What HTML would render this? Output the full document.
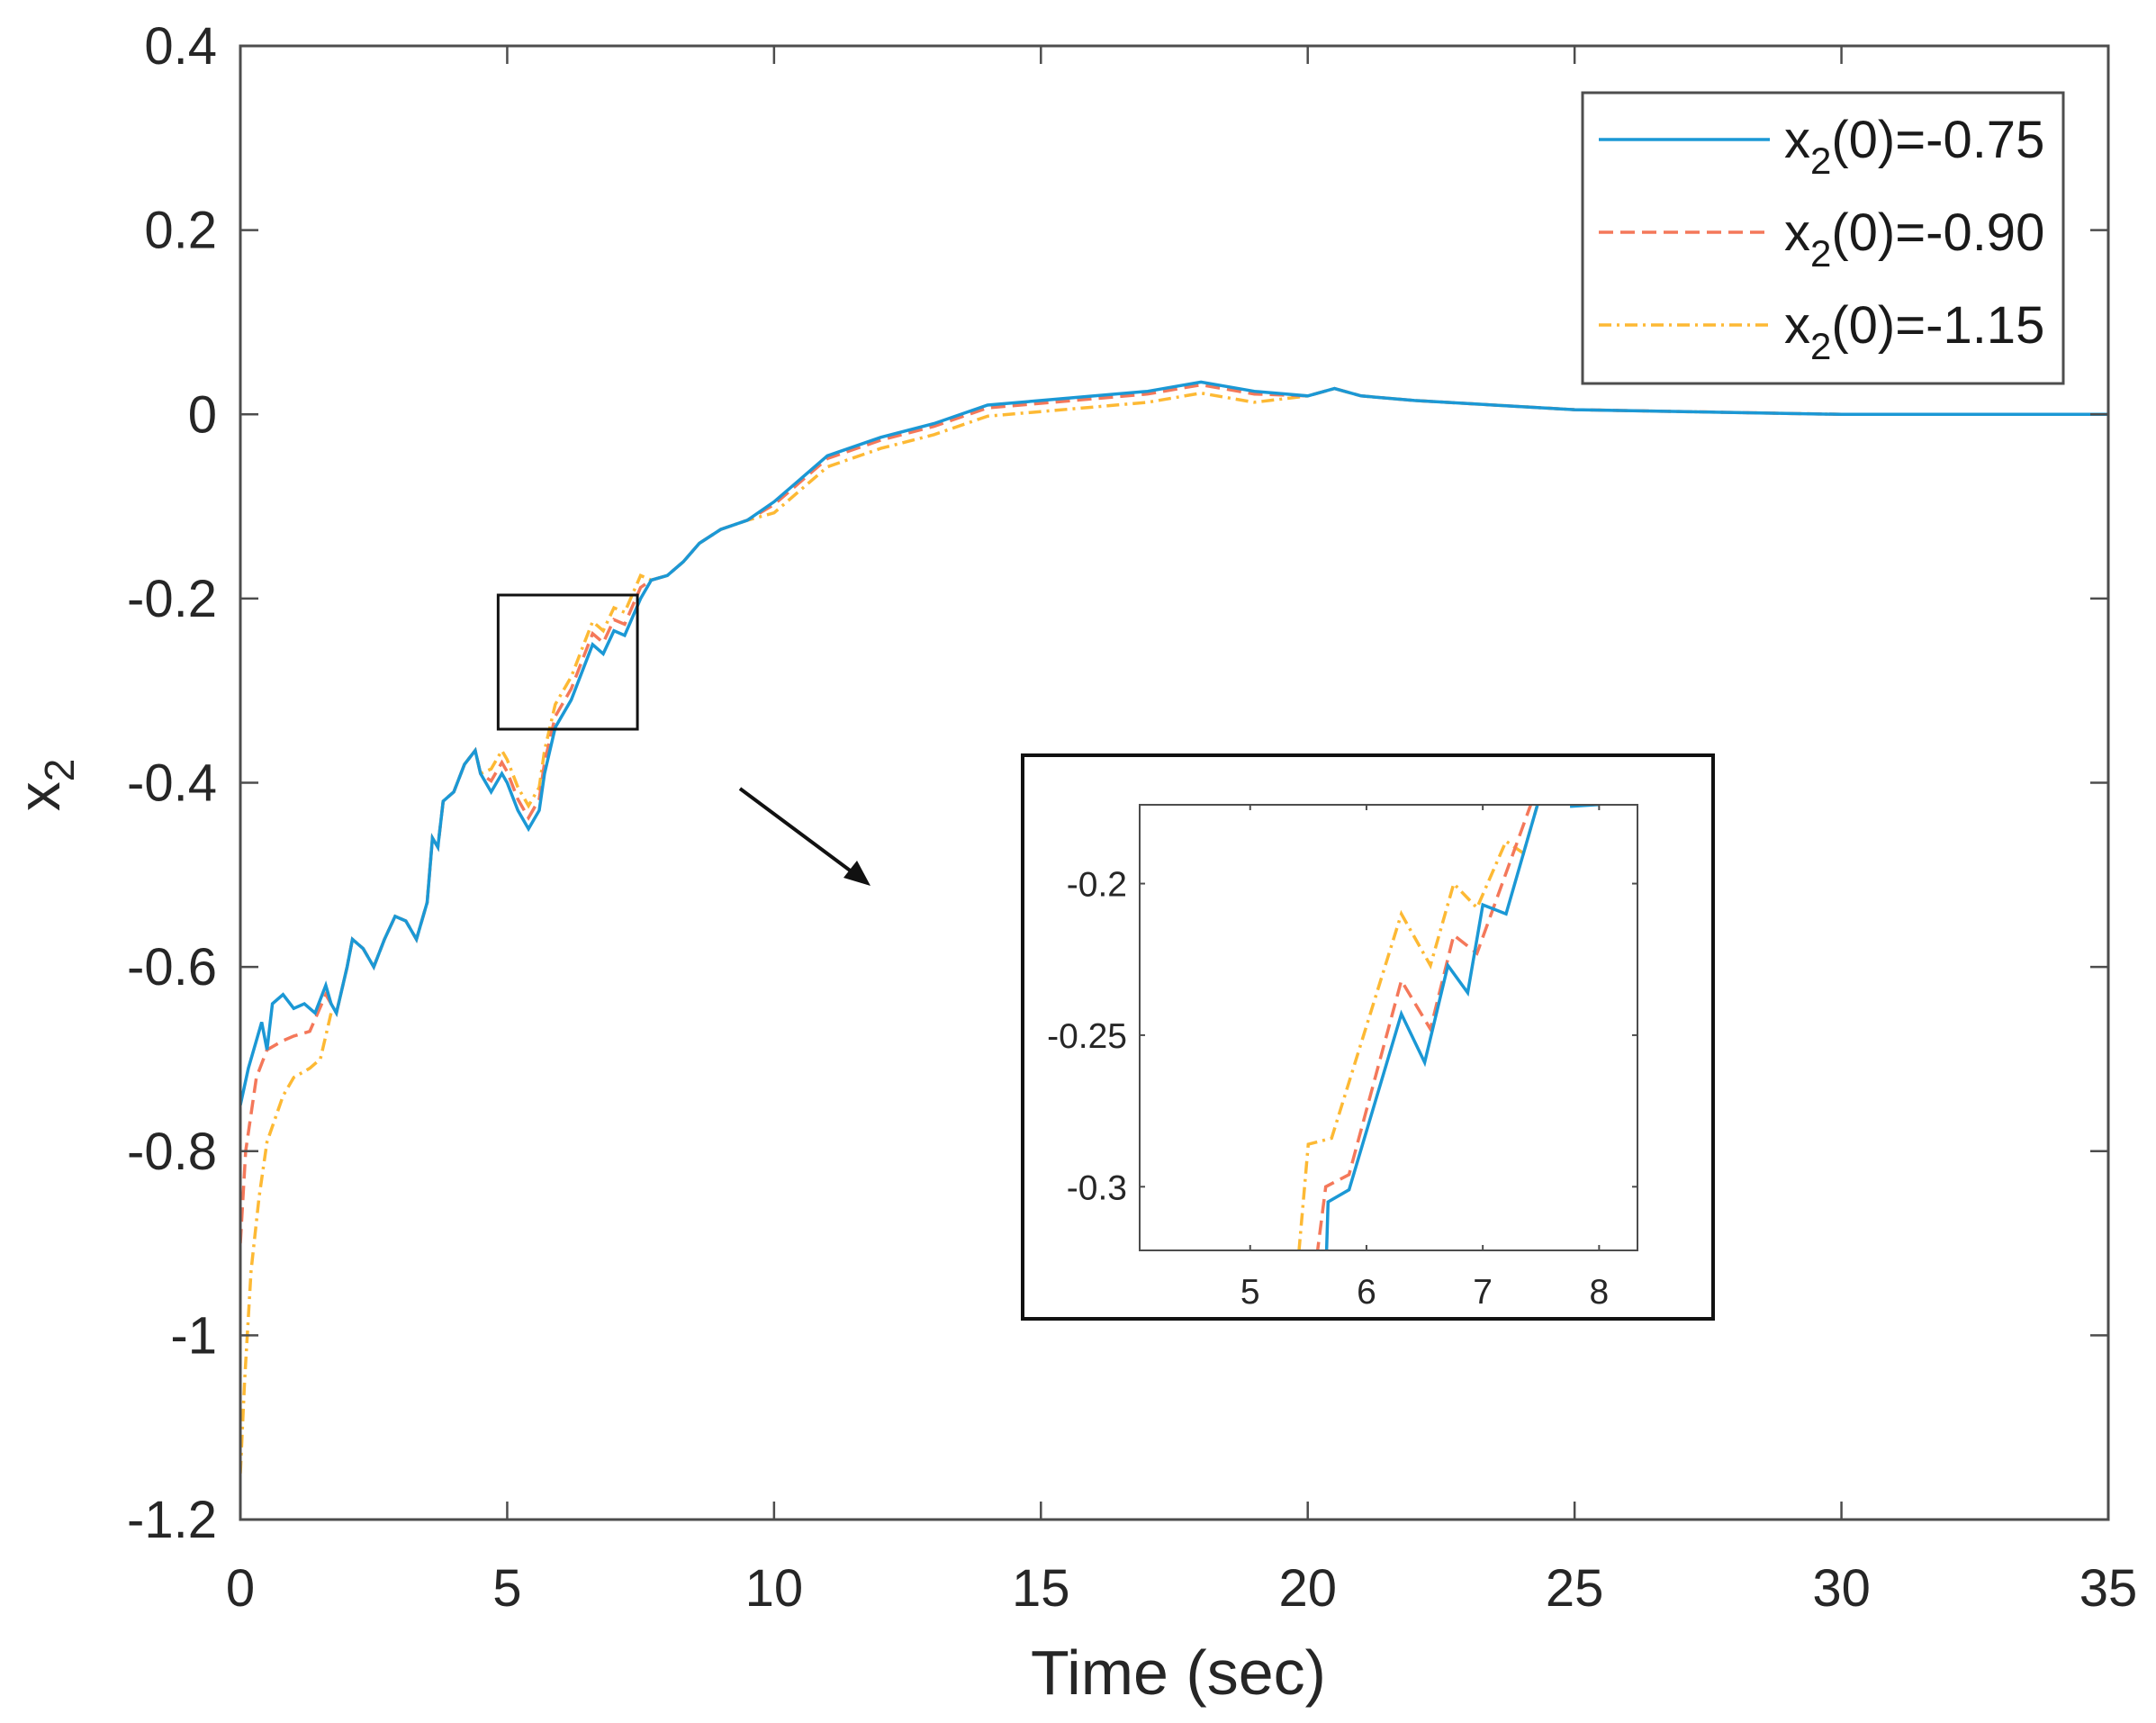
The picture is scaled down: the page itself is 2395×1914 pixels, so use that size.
<!DOCTYPE html>
<html><head><meta charset="utf-8"><style>
html,body{margin:0;padding:0;background:#fff;}
svg{display:block;font-family:"Liberation Sans",Arial,sans-serif;}
</style></head><body>
<svg id="s" width="2395" height="1914" viewBox="0 0 2395 1914" xmlns="http://www.w3.org/2000/svg">
<rect width="2395" height="1914" fill="#fff"/>
<defs>
<clipPath id="cm"><rect x="267" y="51" width="2075" height="1637"/></clipPath>
<clipPath id="ci"><rect x="1266" y="894" width="553" height="495"/></clipPath>
</defs>
<g id="main" clip-path="url(#cm)"></g>
<g id="axes"></g>
<g id="ins" clip-path="url(#ci)"></g>
<g id="ax2"></g>
</svg>
<script>
const NS="http://www.w3.org/2000/svg";
let DEF='axes';
function el(t,a,p,txt){if(typeof p==='string'){txt=p;p=null;}const e=document.createElementNS(NS,t);for(const k in a)e.setAttribute(k,a[k]);if(txt!==undefined)e.textContent=txt;(p||document.getElementById(DEF)).appendChild(e);return e;}
const X0=267,X1=2342,Y0=51,Y1=1688;
const mx=t=>X0+(t/35)*(X1-X0), my=v=>Y0+(0.4-v)/1.6*(Y1-Y0);
const blue=[[0,-0.75],[0.15,-0.71],[0.3,-0.68],[0.4,-0.66],[0.5,-0.69],[0.6,-0.64],[0.8,-0.63],[1.0,-0.645],[1.2,-0.64],[1.4,-0.65],[1.6,-0.62],[1.7,-0.64],[1.8,-0.65],[2.0,-0.6],[2.1,-0.57],[2.3,-0.58],[2.5,-0.6],[2.7,-0.57],[2.9,-0.545],[3.1,-0.55],[3.3,-0.57],[3.5,-0.53],[3.6,-0.46],[3.7,-0.47],[3.8,-0.42],[4.0,-0.41],[4.2,-0.38],[4.4,-0.365],[4.5,-0.39],[4.7,-0.41],[4.9,-0.39],[5.0,-0.4],[5.2,-0.43],[5.4,-0.45],[5.6,-0.43],[5.7,-0.39],[5.9,-0.34],[6.0,-0.33],[6.2,-0.31],[6.4,-0.28],[6.6,-0.25],[6.8,-0.26],[7.0,-0.235],[7.2,-0.24],[7.5,-0.2],[7.7,-0.18],[8,-0.175],[8.3,-0.16],[8.6,-0.14],[9,-0.125],[9.5,-0.115],[10,-0.095],[10.5,-0.07],[11,-0.045],[12,-0.025],[13,-0.01],[14,0.01],[15,0.015],[16,0.02],[17,0.025],[18,0.035],[19,0.025],[20,0.02],[20.5,0.028],[21,0.02],[22,0.015],[25,0.005],[30,0],[35,0]];
function mk(arr,early,delta){const out=early.slice();for(const [t,v] of arr){if(t<=early[early.length-1][0])continue;out.push([t,v+delta(t)]);}return out;}
const red=mk(blue,[[0,-0.90],[0.1,-0.8],[0.3,-0.72],[0.5,-0.69],[0.8,-0.68],[1.0,-0.675],[1.3,-0.67],[1.6,-0.63]],t=>(t>4.6&&t<7.6)?0.012:(t>9.5&&t<20?-0.003:0));
const yel=mk(blue,[[0,-1.15],[0.08,-1.05],[0.2,-0.93],[0.35,-0.85],[0.5,-0.79],[0.8,-0.74],[1.0,-0.72],[1.3,-0.71],[1.5,-0.70],[1.7,-0.65]],t=>(t>4.6&&t<7.6)?0.025:(t>9.5&&t<20?-0.012:0));
function path(pts,fx,fy){return pts.map((p,i)=>(i?'L':'M')+fx(p[0]).toFixed(1)+' '+fy(p[1]).toFixed(1)).join(' ');}
const C={b:'#1b98d5',r:'#f4785a',y:'#fdb934'};
const mg=document.getElementById('main');
el('path',{d:path(yel,mx,my),fill:'none',stroke:C.y,'stroke-width':3.5,'stroke-dasharray':'14 6 3 6'},mg);
el('path',{d:path(red,mx,my),fill:'none',stroke:C.r,'stroke-width':3.5,'stroke-dasharray':'16 8'},mg);
el('path',{d:path(blue,mx,my),fill:'none',stroke:C.b,'stroke-width':3.5},mg);
el('rect',{x:X0,y:Y0,width:X1-X0,height:Y1-Y0,fill:'none',stroke:'#4d4d4d','stroke-width':3});
for(let t=0;t<=35;t+=5){const x=mx(t);el('line',{x1:x,y1:Y1,x2:x,y2:Y1-20,stroke:'#4d4d4d','stroke-width':2.5});el('line',{x1:x,y1:Y0,x2:x,y2:Y0+20,stroke:'#4d4d4d','stroke-width':2.5});el('text',{x:x,y:1784,'text-anchor':'middle','font-size':58,fill:'#262626'},null,String(t));}
for(let i=0;i<=8;i++){const v=0.4-0.2*i;const y=my(v);el('line',{x1:X0,y1:y,x2:X0+20,y2:y,stroke:'#4d4d4d','stroke-width':2.5});el('line',{x1:X1,y1:y,x2:X1-20,y2:y,stroke:'#4d4d4d','stroke-width':2.5});let s=Math.abs(v)<1e-9?'0':(Math.round(v*10)/10).toString();el('text',{x:241,y:y+20,'text-anchor':'end','font-size':58,fill:'#262626'},null,s);}
el('text',{x:1309,y:1882,'text-anchor':'middle','font-size':70,fill:'#262626'},null,'Time (sec)');
const yl=el('text',{x:0,y:0,'font-size':66,fill:'#262626',transform:'translate(66,872) rotate(-90)','text-anchor':'middle'});
yl.innerHTML='x<tspan font-size="46" dy="16">2</tspan>';
el('rect',{x:1758,y:103,width:534,height:323,fill:'#fff',stroke:'#4d4d4d','stroke-width':3});
const L=[[155,C.b,'none','-0.75'],[258,C.r,'16 8','-0.90'],[361,C.y,'14 6 3 6','-1.15']];
for(const [y,c,d,s] of L){el('line',{x1:1776,y1:y,x2:1966,y2:y,stroke:c,'stroke-width':3.5,'stroke-dasharray':d});const t=el('text',{x:1982,y:y+20,'font-size':58,fill:'#1a1a1a'});t.innerHTML='x<tspan font-size="42" dy="18">2</tspan><tspan dy="-18">(0)=</tspan>'+s;}
el('rect',{x:mx(4.83),y:661,width:mx(7.44)-mx(4.83),height:149,fill:'none',stroke:'#111','stroke-width':3});
el('line',{x1:822,y1:876,x2:955,y2:975,stroke:'#111','stroke-width':4});
el('polygon',{points:'967,984 937,975 952,956',fill:'#111'});
el('rect',{x:1136,y:839,width:767,height:626,fill:'#fff',stroke:'#111','stroke-width':4});
DEF='ax2';
const IX0=1266,IX1=1819,IY0=894,IY1=1389;
const ix=t=>IX0+(t-4.05)/(8.33-4.05)*(IX1-IX0), iy=v=>IY0+(-0.174-v)/(0.147)*(IY1-IY0);
const ib=[[5.65,-0.33],[5.67,-0.305],[5.85,-0.301],[6.3,-0.243],[6.5,-0.259],[6.7,-0.227],[6.87,-0.236],[7.0,-0.207],[7.2,-0.21],[7.5,-0.17]];
const ir=[[5.55,-0.33],[5.65,-0.3],[5.85,-0.296],[6.3,-0.232],[6.55,-0.248],[6.75,-0.217],[6.95,-0.223],[7.45,-0.17]];
const iyl=[[5.4,-0.33],[5.5,-0.286],[5.7,-0.284],[6.3,-0.21],[6.55,-0.227],[6.75,-0.2],[6.95,-0.208],[7.2,-0.186],[7.35,-0.19],[7.5,-0.17]];
const ig=document.getElementById('ins');
el('path',{d:path(iyl,ix,iy),fill:'none',stroke:C.y,'stroke-width':3.5,'stroke-dasharray':'14 6 3 6'},ig);
el('path',{d:path(ir,ix,iy),fill:'none',stroke:C.r,'stroke-width':3.5,'stroke-dasharray':'16 8'},ig);
el('path',{d:path(ib,ix,iy),fill:'none',stroke:C.b,'stroke-width':3.5},ig);
el('path',{d:'M'+ix(7.75)+' '+(IY0+2)+' L'+ix(8.0)+' '+(IY0),fill:'none',stroke:C.b,'stroke-width':3},ig);
el('rect',{x:IX0,y:IY0,width:IX1-IX0,height:IY1-IY0,fill:'none',stroke:'#4d4d4d','stroke-width':2});
for(const t of [5,6,7,8]){const x=ix(t);el('line',{x1:x,y1:IY1,x2:x,y2:IY1-6,stroke:'#4d4d4d','stroke-width':2});el('line',{x1:x,y1:IY0,x2:x,y2:IY0+6,stroke:'#4d4d4d','stroke-width':2});el('text',{x:x,y:1448,'text-anchor':'middle','font-size':39,fill:'#262626'},null,String(t));}
for(const v of [-0.2,-0.25,-0.3]){const y=iy(v);el('line',{x1:IX0,y1:y,x2:IX0+6,y2:y,stroke:'#4d4d4d','stroke-width':2});el('line',{x1:IX1,y1:y,x2:IX1-6,y2:y,stroke:'#4d4d4d','stroke-width':2});el('text',{x:1252,y:y+14,'text-anchor':'end','font-size':39,fill:'#262626'},null,String(v));}
</script>
</body></html>
